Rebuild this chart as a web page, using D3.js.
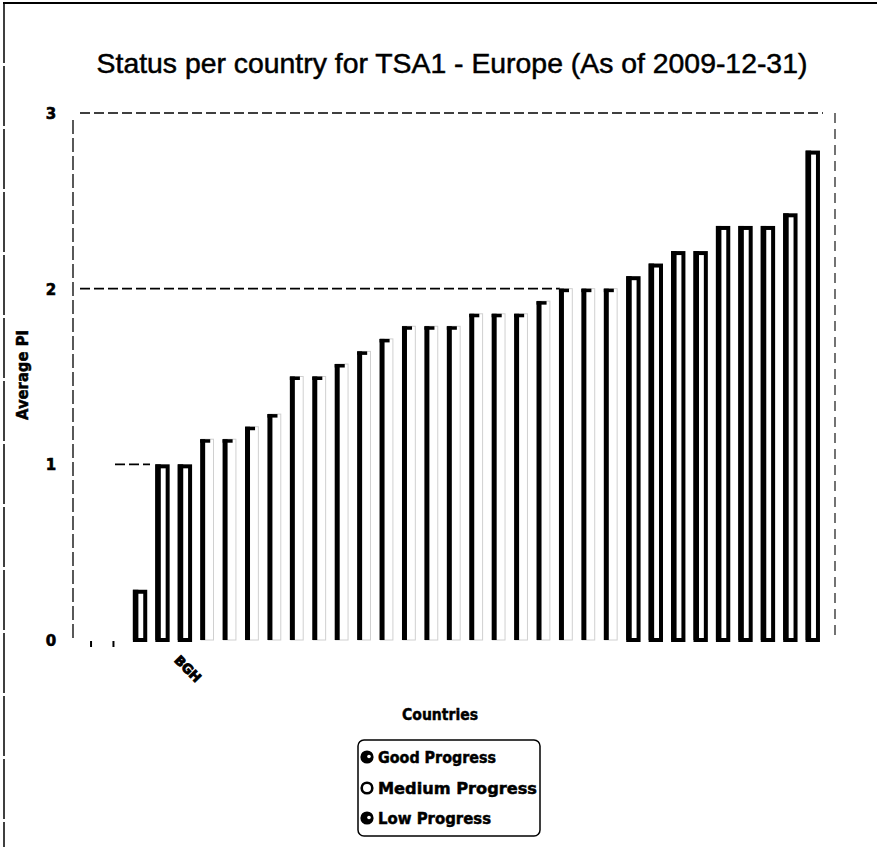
<!DOCTYPE html>
<html>
<head>
<meta charset="utf-8">
<script src="https://cdn.jsdelivr.net/npm/d3@7"></script>
<style>
  html, body { margin: 0; padding: 0; background: #fff; }
  svg { display: block; }
</style>
</head>
<body>
<svg id="chart" width="877" height="847"></svg>
<script>
// ---- data ----
const categories = ["c01","c02","c03","c04","c05","c06","c07","c08","c09","c10","c11",
  "c12","c13","c14","c15","c16","c17","c18","c19","c20","c21","c22","c23","c24","c25",
  "c26","c27","c28","c29","c30","c31","c32","c33"];
const values = [0, 0, 0.286, 1, 1, 1.143, 1.143, 1.214, 1.286, 1.5, 1.5, 1.571, 1.643,
  1.714, 1.786, 1.786, 1.786, 1.857, 1.857, 1.857, 1.929, 2, 2, 2, 2.071, 2.143,
  2.214, 2.214, 2.357, 2.357, 2.357, 2.429, 2.786];
const status = ["Low","Low","Low","Low","Low","Medium","Medium","Medium","Medium","Medium",
  "Medium","Medium","Medium","Medium","Medium","Medium","Medium","Medium","Medium","Medium",
  "Medium","Medium","Medium","Medium","Good","Good","Good","Good","Good","Good","Good","Good","Good"];
const tickLabels = ["","","","BGH","","","","","","","","","","","","","","","","","",
  "","","","","","","","","","","",""];
const yTicks = [0, 1, 2, 3];
const legendItems = ["Good Progress", "Medium Progress", "Low Progress"];
const titleText = "Status per country for TSA1 - Europe (As of 2009-12-31)";

// ---- drawing ----
const svg = d3.select("#chart");
const FONT = "'DejaVu Sans', Verdana, sans-serif";
const TFONT = "'Liberation Sans', Arial, sans-serif";

// outer frame (scan edges)
svg.append("line").attr("x1", 3).attr("x2", 877).attr("y1", 3).attr("y2", 3)
  .attr("stroke", "#000").attr("stroke-width", 2);
svg.append("line").attr("x1", 4).attr("x2", 4).attr("y1", 3).attr("y2", 847)
  .attr("stroke", "#000").attr("stroke-width", 1.5).attr("stroke-dasharray", "60,3");

const x = d3.scaleBand().domain(categories).range([84, 824]).paddingInner(0.36).paddingOuter(0.18);
const y = d3.scaleLinear().domain([0, 3]).range([640, 113]);

// title
const title = svg.append("text").attr("x", 452).attr("y", 73)
  .attr("text-anchor", "middle").attr("font-family", TFONT).attr("font-size", 24)
  .attr("fill", "#000").attr("stroke", "#000").attr("stroke-width", 0.5).text(titleText);
(function fit(t, w) {
  const len = t.node().getComputedTextLength();
  t.attr("font-size", 24 * w / len);
})(title, 711);

// gridlines (only the parts still legible in the scan)
const gridSpans = [
  { v: 3, x1: 80, x2: 823 },
  { v: 2, x1: 80, x2: 560 },
  { v: 1, x1: 115, x2: 150 }
];
svg.append("g").selectAll("line").data(gridSpans).join("line")
  .attr("x1", d => d.x1).attr("x2", d => d.x2)
  .attr("y1", d => y(d.v)).attr("y2", d => y(d.v))
  .attr("stroke", "#000").attr("stroke-width", 1.6)
  .attr("stroke-dasharray", "10,4");

// plot left and right borders
svg.append("line").attr("x1", 73).attr("x2", 73).attr("y1", 120).attr("y2", 640)
  .attr("stroke", "#000").attr("stroke-width", 1.3).attr("stroke-dasharray", "14,4");
svg.append("line").attr("x1", 835).attr("x2", 835).attr("y1", 113).attr("y2", 637)
  .attr("stroke", "#000").attr("stroke-width", 1.1).attr("stroke-dasharray", "10,6");

// y axis tick labels
svg.append("g").selectAll("text").data(yTicks).join("text")
  .attr("x", 51).attr("y", d => y(d) + 6)
  .attr("text-anchor", "middle").attr("font-family", FONT).attr("font-weight", "bold")
  .attr("font-size", 15).attr("stroke", "#000").attr("stroke-width", 0.6).text(d => d);

// bars
const data = categories.map((c, i) => ({ c, v: values[i], s: status[i], label: tickLabels[i] }));
const bw = x.bandwidth();
const bars = svg.append("g");

data.forEach(d => {
  const x0 = x(d.c), y0 = y(d.v), h = y(0) - y(d.v);
  if (d.v === 0) {
    bars.append("line").attr("x1", x0 + 3).attr("x2", x0 + 3).attr("y1", y(0) + 1).attr("y2", y(0) + 7)
      .attr("stroke", "#000").attr("stroke-width", 2);
    return;
  }
  if (d.s === "Medium") {
    bars.append("rect").attr("x", x0 + 1).attr("y", y0).attr("width", bw - 2).attr("height", h)
      .attr("fill", "#fff").attr("stroke", "#d0d0d0").attr("stroke-width", 1);
    bars.append("rect").attr("x", x0).attr("y", y0).attr("width", 5).attr("height", h)
      .attr("fill", "#000");
    bars.append("rect").attr("x", x0).attr("y", y0).attr("width", bw * 0.7).attr("height", 3.5)
      .attr("fill", "#000");
  } else {
    bars.append("rect").attr("x", x0 + 2).attr("y", y0 + 2).attr("width", bw - 4).attr("height", h - 2)
      .attr("fill", "#fff").attr("stroke", "#000").attr("stroke-width", 4);
    bars.append("rect").attr("x", x0).attr("y", y0).attr("width", 5.5).attr("height", h)
      .attr("fill", "#000");
  }
});

// category tick labels (only the legible one)
svg.append("g").selectAll("text").data(data.filter(d => d.label)).join("text")
  .attr("transform", d => `translate(${x(d.c) + bw / 2 + 11},${661}) rotate(45)`)
  .attr("font-family", FONT).attr("font-weight", "bold").attr("font-size", 13)
  .attr("stroke", "#000").attr("stroke-width", 0.9)
  .text(d => d.label);

// axis titles
svg.append("text").attr("x", 440).attr("y", 720).attr("text-anchor", "middle")
  .attr("font-family", FONT).attr("font-weight", "bold").attr("font-size", 16)
  .attr("stroke", "#000").attr("stroke-width", 0.5)
  .attr("textLength", 76).attr("lengthAdjust", "spacingAndGlyphs").text("Countries");
svg.append("text").attr("transform", "translate(28,375) rotate(-90)").attr("text-anchor", "middle")
  .attr("font-family", FONT).attr("font-weight", "bold").attr("font-size", 15)
  .attr("stroke", "#000").attr("stroke-width", 0.5)
  .attr("textLength", 90).attr("lengthAdjust", "spacingAndGlyphs").text("Average PI");

// legend
const lg = svg.append("g");
lg.append("rect").attr("x", 358).attr("y", 740).attr("width", 182).attr("height", 96)
  .attr("rx", 6).attr("fill", "#fff").attr("stroke", "#000").attr("stroke-width", 1.5);
const ly = [757, 788, 818];
const lw = [118, 159, 113];
legendItems.forEach((t, i) => {
  const cy = ly[i];
  if (i === 1) {
    lg.append("circle").attr("cx", 367).attr("cy", cy).attr("r", 5.3)
      .attr("fill", "#fff").attr("stroke", "#000").attr("stroke-width", 2.6);
  } else {
    lg.append("circle").attr("cx", 367).attr("cy", cy).attr("r", 6.6).attr("fill", "#000");
    lg.append("circle").attr("cx", 369).attr("cy", cy - 0.5).attr("r", 1.8).attr("fill", "#fff");
  }
  lg.append("text").attr("x", 378).attr("y", cy + 5.5)
    .attr("font-family", FONT).attr("font-weight", "bold").attr("font-size", 16)
    .attr("stroke", "#000").attr("stroke-width", 0.5)
    .attr("textLength", lw[i]).attr("lengthAdjust", "spacingAndGlyphs").text(t);
});
</script>
</body>
</html>
